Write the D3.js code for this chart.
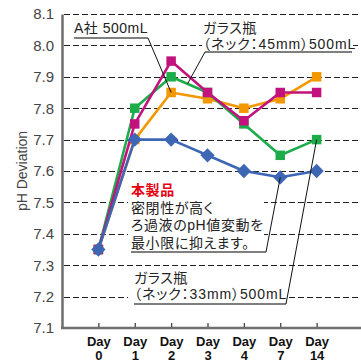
<!DOCTYPE html>
<html><head><meta charset="utf-8">
<script src="https://cdn.jsdelivr.net/npm/d3@7"></script>
<style>body{margin:0;background:#fff;overflow:hidden} .ann{font-feature-settings:"palt" 1;}</style>
</head><body><svg id="c" width="361" height="363"></svg>
<script>
const days = ["0","1","2","3","4","7","14"];
const yTicks = [7.1,7.2,7.3,7.4,7.5,7.6,7.7,7.8,7.9,8.0,8.1];
const seriesNames = ["A社 500mL","ガラス瓶（ネック：45mm）500mL","ガラス瓶（ネック：33mm）500mL","本製品"];
const orangeValues  = [7.35,7.70,7.85,7.83,7.80,7.83,7.90];
const greenValues   = [7.35,7.80,7.90,7.85,7.75,7.65,7.70];
const magentaValues = [7.35,7.75,7.95,7.85,7.76,7.85,7.85];
const blueValues    = [7.35,7.70,7.70,7.65,7.60,7.58,7.60];

const W = 361, H = 363;
const svg = d3.select("#c");
const x = d3.scalePoint().domain(days).range([62, 353]).padding(1);
const y = d3.scaleLinear().domain([7.1, 8.1]).range([328, 14]);
const latin = "'Liberation Sans', Arial, 'Noto Sans CJK JP', sans-serif";

// grid
svg.append("g").selectAll("line").data(yTicks.slice(1)).join("line")
  .attr("x1", x.range()[0] + 2).attr("x2", W)
  .attr("y1", d => Math.round(y(d)) + 0.5).attr("y2", d => Math.round(y(d)) + 0.5)
  .attr("stroke", "#222").attr("stroke-width", 1).attr("stroke-dasharray", "6,3");

// y axis
const ya = svg.append("g").attr("transform", `translate(${x.range()[0]},0)`)
  .call(d3.axisLeft(y).tickValues(yTicks).tickFormat(d3.format(".1f")).tickSize(0).tickSizeOuter(0).tickPadding(8));
ya.select(".domain").attr("stroke", "#6e6e6e").attr("stroke-width", 2.5);
ya.selectAll("text").attr("font-family", latin).attr("font-size", 15).attr("fill", "#444");

// x axis
const xa = svg.append("g").attr("transform", `translate(0,${y.range()[0]})`)
  .call(d3.axisBottom(x).tickSize(-5).tickSizeOuter(0).tickFormat(""));
xa.select(".domain").remove();
xa.selectAll(".tick line").attr("stroke", "#444").attr("stroke-width", 1.3);
xa.append("line").attr("x1", x.range()[0] - 1).attr("x2", W).attr("y1", 0).attr("y2", 0)
  .attr("stroke", "#6e6e6e").attr("stroke-width", 2.5);
const xl = xa.selectAll(".tick").append("text").attr("fill", "#111")
  .attr("font-family", latin).attr("font-size", 13).attr("font-weight", "bold").attr("text-anchor", "middle");
xl.append("tspan").attr("x", 0).attr("y", 18).text("Day");
xl.append("tspan").attr("x", 0).attr("y", 32).text(d => d);

// y title
svg.append("text").attr("transform", `translate(27,${(y.range()[0]+y.range()[1])/2}) rotate(-90)`)
  .attr("text-anchor", "middle").attr("font-family", latin).attr("font-size", 14).attr("fill", "#444")
  .text("pH Deviation");

// annotation backgrounds (drawn before series)
function box(x0, y0, x1, y1) {
  svg.append("rect").attr("x", x0).attr("y", y0).attr("width", x1 - x0).attr("height", y1 - y0).attr("fill", "#fff");
}
box(202, 18, 353, 51);
box(128, 183, 264, 251);
box(128, 266, 288, 303);

// series
const series = [
  {v: orangeValues, c: "#f39800", m: "square"},
  {v: greenValues, c: "#1dac4a", m: "square"},
  {v: magentaValues, c: "#c3127e", m: "square"},
  {v: blueValues, c: "#3d66b4", m: "diamond"}
];
const line = d3.line().x((d, i) => x(days[i])).y(d => y(d));
series.forEach(s => {
  const g = svg.append("g");
  g.append("path").attr("d", line(s.v)).attr("fill", "none").attr("stroke", s.c).attr("stroke-width", 2.6).attr("stroke-linejoin", "round");
  const sym = s.m === "square" ? d3.symbol(d3.symbolSquare, 90) : d3.symbol(d3.symbolDiamond2, 130);
  g.selectAll("path.m").data(s.v).join("path").attr("class", "m")
    .attr("transform", (d, i) => `translate(${x(days[i])},${y(d)})`)
    .attr("d", sym).attr("fill", s.c);
});

// annotations
const jp = "'Liberation Sans', 'Noto Sans CJK JP', sans-serif";
function label(lines, x0, y0, lh, fs, ls) {
  const t = svg.append("text").attr("class", "ann").attr("font-family", jp).attr("font-size", fs)
    .attr("letter-spacing", ls).attr("fill", "#222");
  lines.forEach((l, i) => {
    const ts = t.append("tspan").attr("x", x0).attr("y", y0 + i * lh).text(l.t);
    if (l.c) ts.attr("fill", l.c);
    if (l.b) ts.attr("font-weight", "bold");
    if (l.ls != null) ts.attr("letter-spacing", l.ls);
  });
}
function pointer(ux0, ux1, uy, tx, ty) {
  svg.append("line").attr("x1", ux0).attr("x2", ux1).attr("y1", uy).attr("y2", uy).attr("stroke", "#555").attr("stroke-width", 1.6);
  svg.append("line").attr("x1", ux1).attr("y1", uy).attr("x2", tx).attr("y2", ty).attr("stroke", "#111").attr("stroke-width", 1);
}
// A社
label([{t: seriesNames[0]}], 74, 33, 0, 14, 0.5);
pointer(74, 148, 38, x("2"), y(orangeValues[2]));
// 45mm
label([{t: "ガラス瓶"}, {t: "（ネック：45mm）500mL", ls: 0.9}], 203, 33, 15.5, 14, 0.5);
const f = 0.45;
pointer(352, 205, 52, x("2") + f * (x("3") - x("2")), y(greenValues[2]) + f * (y(greenValues[3]) - y(greenValues[2])));
// 本製品
label([{t: seriesNames[3], c: "#e60012", b: true}, {t: "密閉性が高く"}, {t: "ろ過液のpH値変動を"}, {t: "最小限に抑えます。"}], 131, 195, 17.5, 14, 0.6);
pointer(131, 266, 252, x("7"), y(blueValues[5]));
// 33mm
label([{t: "ガラス瓶"}, {t: "（ネック：33mm）500mL", ls: 0.9}], 134, 283, 16, 14, 0.5);
pointer(134, 286, 304, x("14"), y(greenValues[6]));
</script></body></html>
